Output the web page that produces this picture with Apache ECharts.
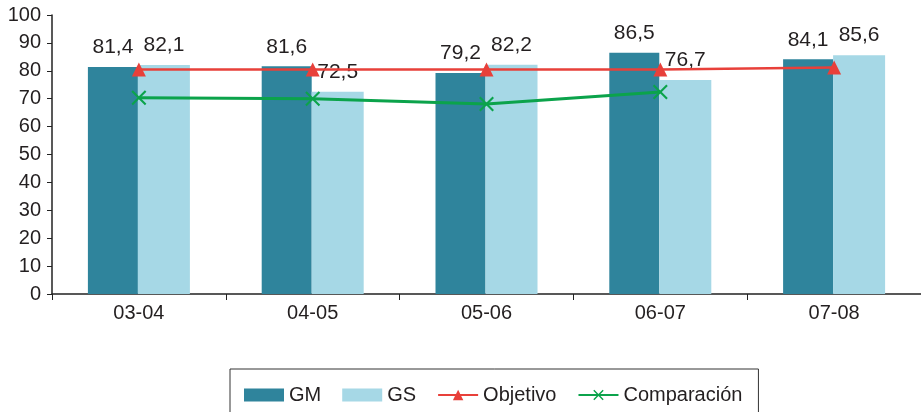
<!DOCTYPE html>
<html><head><meta charset="utf-8">
<script src="https://cdn.jsdelivr.net/npm/echarts@6/dist/echarts.min.js"></script>
<style>html,body{margin:0;padding:0;background:#fff}#c{width:921px;height:412px}</style>
</head><body><div id="c"></div>
<script>
var categories = ['03-04','04-05','05-06','06-07','07-08'];
var gm = [81.4, 81.6, 79.2, 86.5, 84.1];
var gs = [82.1, 72.5, 82.2, 76.7, 85.6];
var objetivo = [80.5, 80.5, 80.5, 80.5, 81.2];
var comparacion = [70.3, 70.0, 68.1, 72.4, null];
var yTicks = [0,10,20,30,40,50,60,70,80,90,100];

var FONT = 'Liberation Sans';
var crossPath = 'path://M0,1 L1,0 L5,4 L9,0 L10,1 L6,5 L10,9 L9,10 L5,6 L1,10 L0,9 L4,5 Z';
function fmt(p){ return String(p.value).replace('.', ','); }
var chart = echarts.init(document.getElementById('c'));
chart.setOption({
  animation: false,
  textStyle: {fontFamily: FONT},
  grid: {left: 52, right: 0, top: 15, bottom: 118},
  legend: {
    left: 230, top: 369, padding: [16, 16, 14, 14], itemGap: 21,
    borderColor: '#333', borderWidth: 1,
    itemWidth: 40, itemHeight: 13,
    textStyle: {fontSize: 20, color: '#231f20', fontFamily: FONT},
    data: [{name: 'GM', icon: 'rect'}, {name: 'GS', icon: 'rect'}, 'Objetivo', 'Comparación']
  },
  xAxis: {
    type: 'category', data: categories,
    axisLine: {lineStyle: {color: '#222', width: 1.5}},
    axisTick: {show: true, length: 6, lineStyle: {color: '#222'}},
    axisLabel: {fontSize: 20, color: '#231f20', margin: 9, fontFamily: FONT}
  },
  yAxis: {
    type: 'value', min: yTicks[0], max: yTicks[yTicks.length-1], interval: 10,
    axisLine: {show: true, lineStyle: {color: '#222', width: 1.5}},
    axisTick: {show: true, length: 5, lineStyle: {color: '#222'}},
    splitLine: {show: false},
    axisLabel: {fontSize: 20, color: '#231f20', margin: 11, fontFamily: FONT}
  },
  series: [
    {name: 'GM', type: 'bar', data: gm, barWidth: 50, barGap: '0%',
     itemStyle: {color: '#2F849C'},
     label: {show: true, position: 'top', distance: 9, fontSize: 21, color: '#231f20', formatter: fmt, fontFamily: FONT}},
    {name: 'GS', type: 'bar', data: gs, barWidth: 52, barGap: '0%',
     itemStyle: {color: '#A6D8E6'},
     label: {show: true, position: 'top', distance: 9, fontSize: 21, color: '#231f20', formatter: fmt, fontFamily: FONT}},
    {name: 'Objetivo', type: 'line', data: objetivo, symbol: 'triangle', symbolSize: 14,
     lineStyle: {color: '#E8403A', width: 2.5}, itemStyle: {color: '#E8403A'}, z: 5},
    {name: 'Comparación', type: 'line', data: comparacion, symbol: crossPath, symbolSize: 15,
     lineStyle: {color: '#0BA34B', width: 3}, itemStyle: {color: '#0BA34B'}, z: 6}
  ]
});
</script></body></html>
